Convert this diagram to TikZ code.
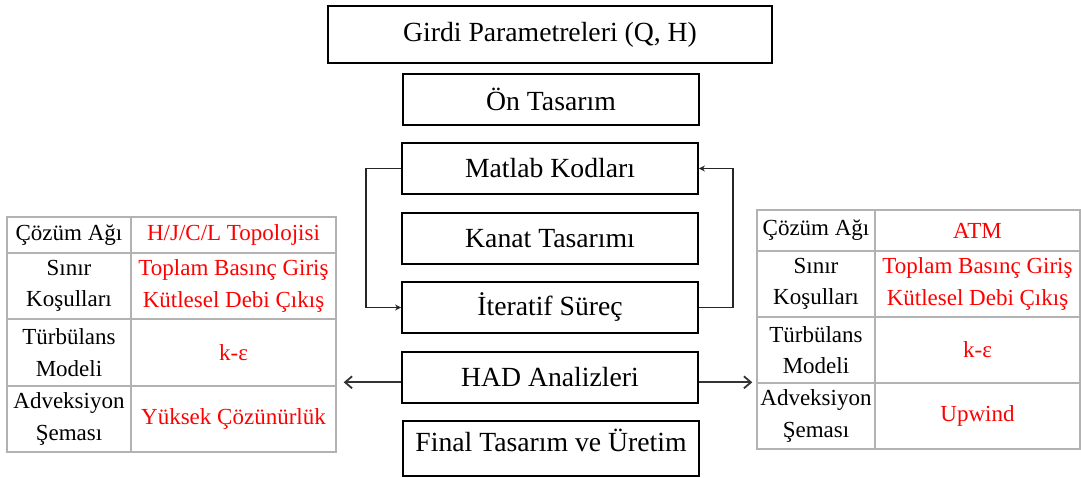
\documentclass[tikz,border=0pt]{standalone}
\usepackage{fontspec}
\setmainfont{Liberation Serif}
\usetikzlibrary{arrows.meta}
\begin{document}
\begin{tikzpicture}[x=0.5pt,y=-0.5pt,
  box/.style={draw=black, line width=0.9pt, minimum width=148pt, minimum height=25.5pt, inner sep=0pt,
    font=\fontsize{13.85}{16}\selectfont},
  cell/.style={draw=gray!60, line width=0.7pt, inner sep=0pt, align=center,
    font=\fontsize{11.5}{15.8}\selectfont},
  rcell/.style={cell, text=red},
  loopline/.style={draw=black!85, line width=0.9pt, -{Stealth[length=3pt,width=3pt]}},
  outline/.style={draw=black!80, line width=0.9pt, -{Straight Barb[length=3.5pt,width=6pt]}}
]
\useasboundingbox (0,0) rectangle (1081,477);

% central column
\node[box, minimum width=222pt, minimum height=28.5pt] (girdi) at (550,34.5) {Girdi Parametreleri (Q, H)};
\node[box] (on) at (551,99.5) {Ön Tasarım};
\node[box] (matlab) at (550,168.5) {Matlab Kodları};
\node[box] (kanat) at (550,238.5) {Kanat Tasarımı};
\node[box] (iter) at (550,307.5) {İteratif Süreç};
\node[box] (had) at (550,377.5) {HAD Analizleri};
\node[box, minimum height=27.5pt, text depth=8pt] (final) at (551,448.5) {Final Tasarım ve Üretim};

% loop connectors
\draw[loopline] (matlab.west) -- ++(-35,0) |- (iter.west);
\draw[loopline] (iter.east) -- ++(34,0) |- (matlab.east);

% left table
\node[cell, minimum width=62pt, minimum height=18pt] (l11) at (69,235) {Çözüm Ağı};
\node[rcell, minimum width=102.5pt, minimum height=18pt] (l12) at (233.5,235) {H/J/C/L Topolojisi};
\node[cell, minimum width=62pt, minimum height=33pt] (l21) at (69,286) {Sınır\\Koşulları};
\node[rcell, minimum width=102.5pt, minimum height=33pt] (l22) at (233.5,286) {Toplam Basınç Giriş\\Kütlesel Debi Çıkış};
\node[cell, minimum width=62pt, minimum height=33.5pt] (l31) at (69,352.5) {Türbülans\\Modeli};
\node[rcell, minimum width=102.5pt, minimum height=33.5pt] (l32) at (233.5,352.5) {k-ε};
\node[cell, minimum width=62pt, minimum height=33pt] (l41) at (69,419) {Adveksiyon\\Şeması};
\node[rcell, minimum width=102.5pt, minimum height=33pt] (l42) at (233.5,419) {Yüksek Çözünürlük};

% right table
\node[cell, minimum width=59pt, minimum height=20.5pt] (r11) at (816,230.5) {Çözüm Ağı};
\node[rcell, minimum width=102.5pt, minimum height=20.5pt] (r12) at (977.5,230.5) {ATM};
\node[cell, minimum width=59pt, minimum height=33pt] (r21) at (816,284) {Sınır\\Koşulları};
\node[rcell, minimum width=102.5pt, minimum height=33pt] (r22) at (977.5,284) {Toplam Basınç Giriş\\Kütlesel Debi Çıkış};
\node[cell, minimum width=59pt, minimum height=33pt] (r31) at (816,350) {Türbülans\\Modeli};
\node[rcell, minimum width=102.5pt, minimum height=33pt] (r32) at (977.5,350) {k-ε};
\node[cell, minimum width=59pt, minimum height=33pt] (r41) at (816,416) {Adveksiyon\\Şeması};
\node[rcell, minimum width=102.5pt, minimum height=33pt] (r42) at (977.5,416) {Upwind};

% HAD output arrows
\coordinate (lt) at ([xshift=3.5pt,yshift=1.5pt]l42.north east);
\coordinate (rt) at ([xshift=-2pt]r41.north west);
\draw[outline] (had.west |- lt) -- (lt);
\draw[outline] (had.east |- rt) -- (rt);
\end{tikzpicture}
\end{document}
